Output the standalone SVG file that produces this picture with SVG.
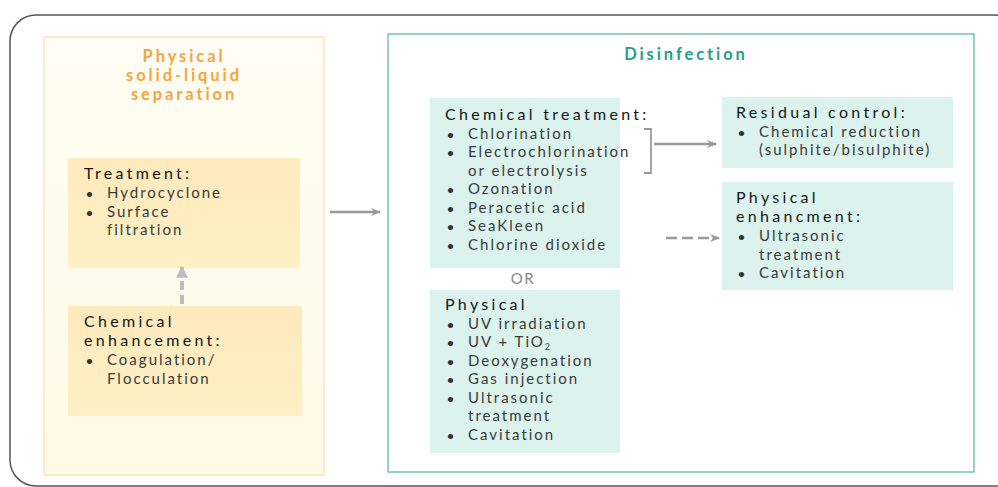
<svg xmlns="http://www.w3.org/2000/svg" width="998" height="487" viewBox="0 0 998 487">
<defs>
<linearGradient id="cream" x1="0" y1="0" x2="0" y2="1"><stop offset="0" stop-color="#fffdf4"/><stop offset="1" stop-color="#fffae6"/></linearGradient>
<linearGradient id="yel" x1="0" y1="0" x2="0" y2="1"><stop offset="0" stop-color="#fdeabd"/><stop offset="1" stop-color="#fdf0c4"/></linearGradient>
<marker id="ah" viewBox="0 0 10 10" refX="9" refY="5" markerWidth="4" markerHeight="4" orient="auto" markerUnits="strokeWidth"><path d="M0,1 L10,5 L0,9 L3,5 Z" fill="#9a9a9a"/></marker>
<marker id="ahL" viewBox="0 0 10 10" refX="9" refY="5" markerWidth="3" markerHeight="3" orient="auto" markerUnits="strokeWidth"><path d="M0,0 L10,5 L0,10 Z" fill="#bdbdbd"/></marker>
</defs>
<style>
text{font-family:Lato,"Open Sans","Liberation Sans",sans-serif;fill:#1e1e1e}
.h{font-size:16px;letter-spacing:3.3px;fill:#161616}
.i{font-size:15px;letter-spacing:2px;fill:#3a3a3a}
.b{font-size:12px;font-weight:bold;letter-spacing:0;fill:#333}
.t{font-size:16.5px;font-weight:bold;letter-spacing:2.9px;text-anchor:middle}
.or{fill:#f5a640}
.tl{fill:#23a08d}
.box{fill:url(#yel)}
.teal{fill:#dcf2ed}
.conn{stroke:#9a9a9a;fill:none}
</style>
<rect x="10" y="15" width="1010" height="471" rx="26" fill="#fff" stroke="#555" stroke-width="1.5"/>
<g id="left-panel">
<rect x="44" y="37" width="280" height="438" fill="url(#cream)" stroke="#f5dfb0" stroke-width="1.2"/>
<text class="t or"><tspan x="184" y="62">Physical</tspan><tspan x="184" y="81">solid-liquid</tspan><tspan x="184" y="100">separation</tspan></text>
</g>
<g id="treatment">
<rect class="box" x="68" y="158" width="232" height="110"/>
<text><tspan class="h" x="84" y="179">Treatment:</tspan><tspan class="b" x="86" y="198">•</tspan><tspan class="i" x="107" y="198">Hydrocyclone</tspan><tspan class="b" x="86" y="216.5">•</tspan><tspan class="i" x="107" y="216.5">Surface</tspan><tspan class="i" x="107" y="235">filtration</tspan></text>
</g>
<g id="chem-enh">
<rect class="box" x="68" y="306" width="234" height="110"/>
<text><tspan class="h" x="84" y="327">Chemical</tspan><tspan class="h" x="84" y="346.3">enhancement:</tspan><tspan class="b" x="86" y="365">•</tspan><tspan class="i" x="107" y="365">Coagulation/</tspan><tspan class="i" x="107" y="383.5">Flocculation</tspan></text>
</g>
<g id="right-panel">
<rect x="388" y="34" width="586" height="438" fill="#fff" stroke="#5cbcaa" stroke-width="1.3"/>
<text class="t tl" x="686" y="60">Disinfection</text>
<text x="523" y="284" style="font-size:15px;letter-spacing:1.5px;fill:#888;text-anchor:middle">OR</text>
</g>
<g id="chem-treat">
<rect class="teal" x="430" y="98" width="190" height="170"/>
<text><tspan class="h" x="445" y="120">Chemical treatment:</tspan><tspan class="b" x="447" y="138.5">•</tspan><tspan class="i" x="468" y="138.5">Chlorination</tspan><tspan class="b" x="447" y="157">•</tspan><tspan class="i" x="468" y="157">Electrochlorination</tspan><tspan class="i" x="468" y="175.5">or electrolysis</tspan><tspan class="b" x="447" y="194">•</tspan><tspan class="i" x="468" y="194">Ozonation</tspan><tspan class="b" x="447" y="212.5">•</tspan><tspan class="i" x="468" y="212.5">Peracetic acid</tspan><tspan class="b" x="447" y="231">•</tspan><tspan class="i" x="468" y="231">SeaKleen</tspan><tspan class="b" x="447" y="249.5">•</tspan><tspan class="i" x="468" y="249.5">Chlorine dioxide</tspan></text>
</g>
<g id="physical">
<rect class="teal" x="430" y="290" width="190" height="163"/>
<text><tspan class="h" x="445" y="310">Physical</tspan><tspan class="b" x="447" y="328.5">•</tspan><tspan class="i" x="468" y="328.5">UV irradiation</tspan><tspan class="b" x="447" y="347">•</tspan><tspan class="i" x="468" y="347">UV + TiO</tspan><tspan class="i" style="font-size:9px;letter-spacing:0" dy="3">2</tspan><tspan class="b" x="447" y="365.5">•</tspan><tspan class="i" x="468" y="365.5">Deoxygenation</tspan><tspan class="b" x="447" y="384">•</tspan><tspan class="i" x="468" y="384">Gas injection</tspan><tspan class="b" x="447" y="402.5">•</tspan><tspan class="i" x="468" y="402.5">Ultrasonic</tspan><tspan class="i" x="468" y="421">treatment</tspan><tspan class="b" x="447" y="439.5">•</tspan><tspan class="i" x="468" y="439.5">Cavitation</tspan></text>
</g>
<g id="residual">
<rect class="teal" x="722" y="97" width="231" height="71"/>
<text><tspan class="h" x="736" y="118">Residual control:</tspan><tspan class="b" x="738" y="136.5">•</tspan><tspan class="i" x="759" y="136.5">Chemical reduction</tspan><tspan class="i" x="759" y="155">(sulphite/bisulphite)</tspan></text>
</g>
<g id="phys-enh">
<rect class="teal" x="722" y="182" width="231" height="108"/>
<text><tspan class="h" x="736" y="203">Physical</tspan><tspan class="h" x="736" y="222.3">enhancment:</tspan><tspan class="b" x="738" y="241">•</tspan><tspan class="i" x="759" y="241">Ultrasonic</tspan><tspan class="i" x="759" y="259.5">treatment</tspan><tspan class="b" x="738" y="278">•</tspan><tspan class="i" x="759" y="278">Cavitation</tspan></text>
</g>
<g id="connectors">
<line class="conn" x1="330" y1="212" x2="380" y2="212" stroke-width="2.5" marker-end="url(#ah)"/>
<line x1="182" y1="304" x2="182" y2="267" stroke="#bdbdbd" stroke-width="4" stroke-dasharray="9,5" marker-end="url(#ahL)"/>
<path d="M644,129 H651 V173 H644" stroke="#777" stroke-width="1.3" fill="none"/>
<line class="conn" x1="654" y1="144" x2="716" y2="144" stroke-width="2.5" marker-end="url(#ah)"/>
<line class="conn" x1="666" y1="238" x2="719" y2="238" stroke-width="2.5" stroke-dasharray="11,5" marker-end="url(#ah)"/>
</g>
</svg>
